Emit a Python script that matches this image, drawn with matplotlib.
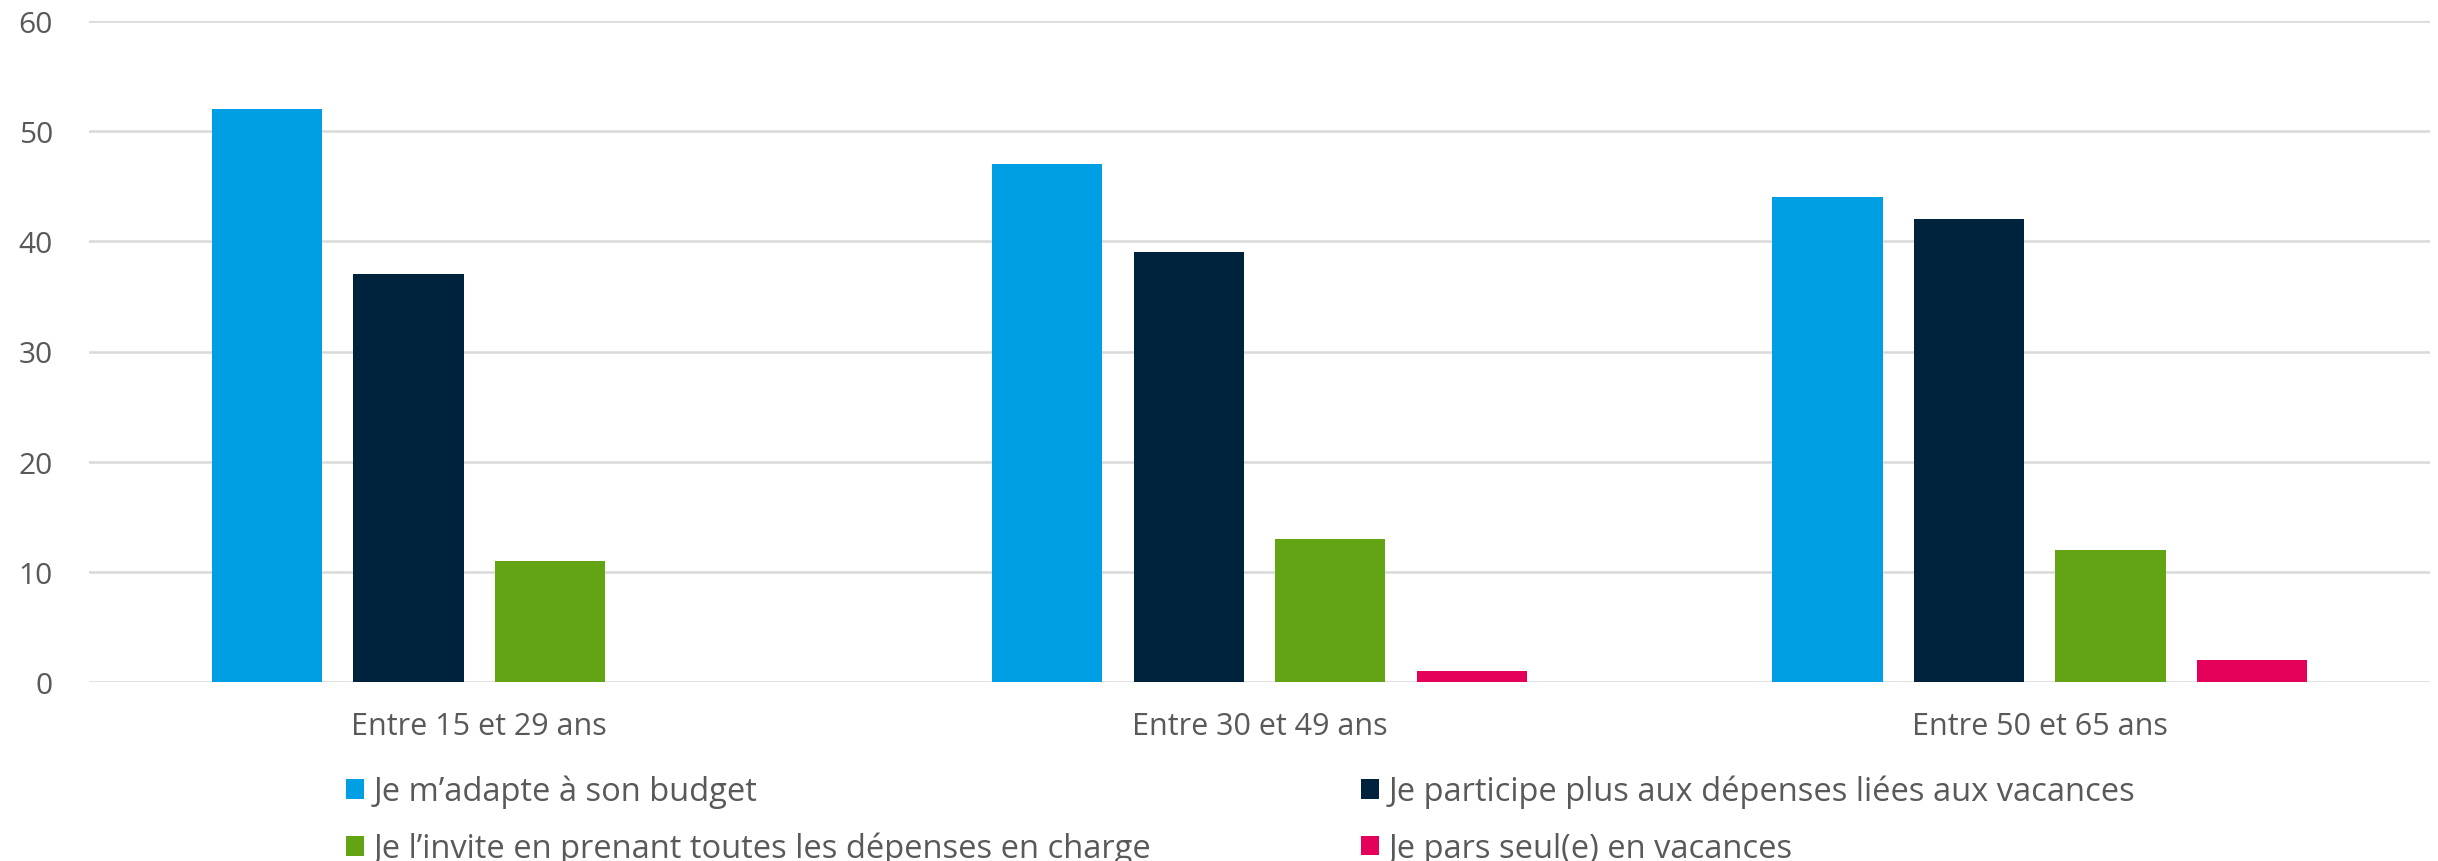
import matplotlib.pyplot as plt
import numpy as np

categories = ['Entre 15 et 29 ans', 'Entre 30 et 49 ans', 'Entre 50 et 65 ans']
series_names = ["Je m\u2019adapte à son budget",
                'Je participe plus aux dépenses liées aux vacances',
                "Je l\u2019invite en prenant toutes les dépenses en charge",
                'Je pars seul(e) en vacances']
adapte = [52, 47, 44]
participe = [37, 39, 42]
invite = [11, 13, 12]
seul = [0, 1, 2]
colors = ['#009FE3', '#00233D', '#62A413', '#E5005A']

plt.rcParams['font.family'] = ['Open Sans', 'DejaVu Sans']
W, H = 2438, 862

fig = plt.figure(figsize=(W / 100, H / 100), dpi=100)
ax = fig.add_axes([89 / W, 1 - 683 / H, (2430 - 89) / W, (683 - 22) / H])

x = np.arange(len(categories))
width = 0.1414
pitch = 0.1813
handles = []
for i, (vals, c) in enumerate(zip([adapte, participe, invite, seul], colors)):
    b = ax.bar(x + (i - 1.5) * pitch, vals, width, color=c, zorder=3)
    handles.append(b)

ax.set_xlim(-0.5, 2.5)
ax.set_ylim(0, 60)
ax.set_yticks(range(0, 61, 10))
ax.yaxis.grid(True, color='#D9D9D9', linewidth=1.8, zorder=0)
for s in ax.spines.values():
    s.set_visible(False)
ax.tick_params(axis='y', length=0, labelsize=21.5, labelcolor='#595959', pad=26)
ax.tick_params(axis='x', length=0, labelsize=22, labelcolor='#595959', pad=21)
ax.set_xticks(x)
ax.set_xticklabels(categories)

legend_kw = dict(loc='upper left', frameon=False, fontsize=23.5, labelcolor='#595959',
                 handlelength=0.55, handleheight=0.55, handletextpad=0.3,
                 labelspacing=0.72, borderaxespad=0, borderpad=0)
leg1 = fig.legend([handles[0], handles[2]], [series_names[0], series_names[2]],
                  bbox_to_anchor=(346 / W, 1 - 776 / H), **legend_kw)
leg2 = fig.legend([handles[1], handles[3]], [series_names[1], series_names[3]],
                  bbox_to_anchor=(1361 / W, 1 - 776 / H), **legend_kw)

fig.savefig('out.png', dpi=100)
